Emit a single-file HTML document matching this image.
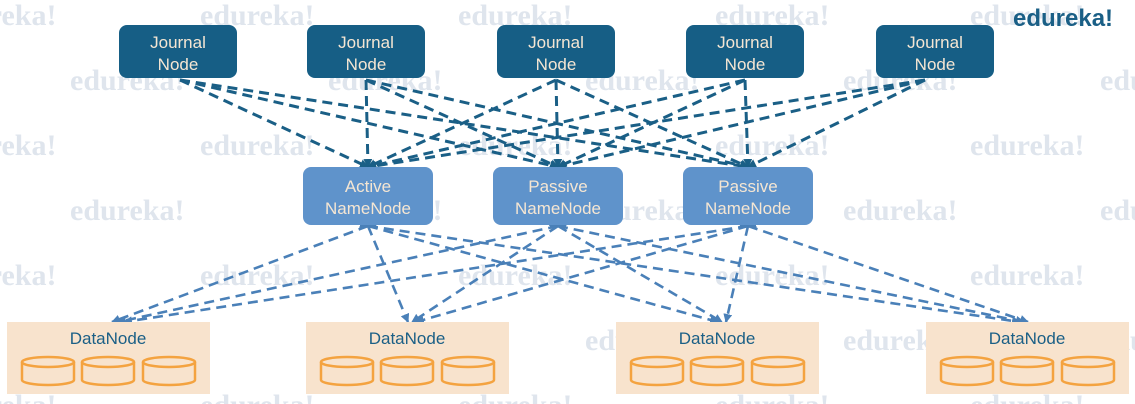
<!DOCTYPE html>
<html><head><style>
html,body{margin:0;padding:0;background:#fff;}
body{width:1135px;height:404px;overflow:hidden;position:relative;}
svg{position:absolute;left:0;top:0;}
</style></head><body>
<svg width="1135" height="404" viewBox="0 0 1135 404" xmlns="http://www.w3.org/2000/svg">
<defs>
<marker id="a1" markerWidth="9" markerHeight="9" refX="8" refY="4.5" orient="auto" markerUnits="userSpaceOnUse"><path d="M0,0 L9,4.5 L0,9 z" fill="#1a5f86"/></marker>
<marker id="a2" markerWidth="9" markerHeight="9" refX="8" refY="4.5" orient="auto" markerUnits="userSpaceOnUse"><path d="M0,0 L9,4.5 L0,9 z" fill="#4a80b8"/></marker>
</defs>
<g font-family="Liberation Serif, serif" font-weight="bold" font-size="30" fill="#dfe5ed">
<text x="-58" y="25">edureka!</text><text x="200" y="25">edureka!</text><text x="458" y="25">edureka!</text><text x="715" y="25">edureka!</text><text x="970" y="25">edureka!</text>
<text x="70" y="90">edureka!</text><text x="328" y="90">edureka!</text><text x="585" y="90">edureka!</text><text x="843" y="90">edureka!</text><text x="1100" y="90">edureka!</text>
<text x="-58" y="155">edureka!</text><text x="200" y="155">edureka!</text><text x="458" y="155">edureka!</text><text x="715" y="155">edureka!</text><text x="970" y="155">edureka!</text>
<text x="70" y="220">edureka!</text><text x="328" y="220">edureka!</text><text x="585" y="220">edureka!</text><text x="843" y="220">edureka!</text><text x="1100" y="220">edureka!</text>
<text x="-58" y="285">edureka!</text><text x="200" y="285">edureka!</text><text x="458" y="285">edureka!</text><text x="715" y="285">edureka!</text><text x="970" y="285">edureka!</text>
<text x="70" y="350">edureka!</text><text x="328" y="350">edureka!</text><text x="585" y="350">edureka!</text><text x="843" y="350">edureka!</text><text x="1100" y="350">edureka!</text>
<text x="-58" y="415">edureka!</text><text x="200" y="415">edureka!</text><text x="458" y="415">edureka!</text><text x="715" y="415">edureka!</text><text x="970" y="415">edureka!</text>
</g>
<text x="1013" y="26" font-family="Liberation Sans, sans-serif" font-weight="bold" font-size="24" fill="#1a5f86">edureka!</text>

<g stroke="#1a5f86" stroke-width="3" stroke-dasharray="10,6" fill="none" marker-end="url(#a1)">
<line x1="180" y1="80" x2="368" y2="167"/><line x1="180" y1="80" x2="558" y2="167"/><line x1="180" y1="80" x2="748" y2="167"/>
<line x1="366" y1="80" x2="368" y2="167"/><line x1="366" y1="80" x2="558" y2="167"/><line x1="366" y1="80" x2="748" y2="167"/>
<line x1="556" y1="80" x2="368" y2="167"/><line x1="556" y1="80" x2="558" y2="167"/><line x1="556" y1="80" x2="748" y2="167"/>
<line x1="745" y1="80" x2="368" y2="167"/><line x1="745" y1="80" x2="558" y2="167"/><line x1="745" y1="80" x2="748" y2="167"/>
<line x1="925" y1="80" x2="368" y2="167"/><line x1="925" y1="80" x2="558" y2="167"/><line x1="925" y1="80" x2="748" y2="167"/>
</g>
<g stroke="#4a80b8" stroke-width="2.6" stroke-dasharray="10,6" fill="none" marker-end="url(#a2)" marker-start="url(#a2)">
<line x1="368" y1="226" x2="112" y2="322"/><line x1="368" y1="226" x2="408" y2="322"/><line x1="368" y1="226" x2="718" y2="322"/><line x1="368" y1="226" x2="1020" y2="322"/>
<line x1="558" y1="226" x2="118" y2="322"/><line x1="558" y1="226" x2="412" y2="322"/><line x1="558" y1="226" x2="722" y2="322"/><line x1="558" y1="226" x2="1024" y2="322"/>
<line x1="748" y1="226" x2="124" y2="322"/><line x1="748" y1="226" x2="416" y2="322"/><line x1="748" y1="226" x2="726" y2="322"/><line x1="748" y1="226" x2="1028" y2="322"/>
</g>

<g fill="#165e85">
<rect x="119" y="25" width="118" height="53" rx="8"/><rect x="307" y="25" width="118" height="53" rx="8"/><rect x="497" y="25" width="118" height="53" rx="8"/><rect x="686" y="25" width="118" height="53" rx="8"/><rect x="876" y="25" width="118" height="53" rx="8"/>
</g>
<g font-family="Liberation Sans, sans-serif" font-size="17" fill="#f5e6d3" text-anchor="middle">
<text x="178" y="48">Journal</text><text x="178" y="70">Node</text>
<text x="366" y="48">Journal</text><text x="366" y="70">Node</text>
<text x="556" y="48">Journal</text><text x="556" y="70">Node</text>
<text x="745" y="48">Journal</text><text x="745" y="70">Node</text>
<text x="935" y="48">Journal</text><text x="935" y="70">Node</text>
</g>
<g fill="#5f93cb">
<rect x="303" y="167" width="130" height="58" rx="8"/><rect x="493" y="167" width="130" height="58" rx="8"/><rect x="683" y="167" width="130" height="58" rx="8"/>
</g>
<g font-family="Liberation Sans, sans-serif" font-size="17" fill="#f5e6d3" text-anchor="middle">
<text x="368" y="192">Active</text><text x="368" y="214">NameNode</text>
<text x="558" y="192">Passive</text><text x="558" y="214">NameNode</text>
<text x="748" y="192">Passive</text><text x="748" y="214">NameNode</text>
</g>

<g id="dn">
<rect x="7" y="322" width="203" height="72" fill="#f8e3cd"/>
<text x="108" y="344" font-family="Liberation Sans, sans-serif" font-size="17" fill="#1a5f86" text-anchor="middle">DataNode</text>
<g fill="none" stroke="#f4a340" stroke-width="2.5">
<path d="M22,362 v18 a26,5 0 0 0 52,0 v-18"/><ellipse cx="48" cy="362" rx="26" ry="5"/>
<path d="M82,362 v18 a26,5 0 0 0 52,0 v-18"/><ellipse cx="108" cy="362" rx="26" ry="5"/>
<path d="M143,362 v18 a26,5 0 0 0 52,0 v-18"/><ellipse cx="169" cy="362" rx="26" ry="5"/>
</g>
</g>
<use href="#dn" x="299"/>
<use href="#dn" x="609"/>
<use href="#dn" x="919"/>
</svg>
</body></html>
